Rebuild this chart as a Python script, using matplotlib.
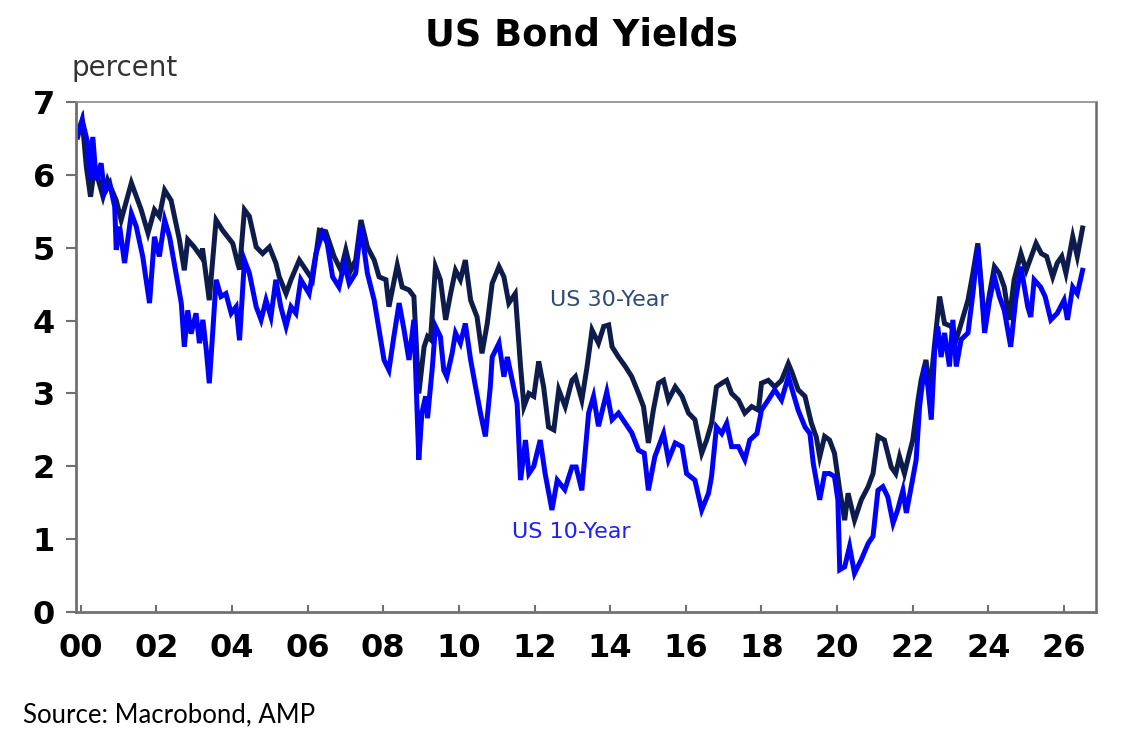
import matplotlib.pyplot as plt

# US 30-year yield (decimal year, percent)
yr30 = [1999.92, 2000.04, 2000.15, 2000.26, 2000.37, 2000.59, 2000.71, 2000.94, 2001.07, 2001.34,
        2001.60, 2001.78, 2001.95, 2002.08, 2002.22, 2002.39, 2002.61, 2002.74, 2002.83, 2003.00,
        2003.18, 2003.22, 2003.40, 2003.58, 2003.75, 2004.02, 2004.15, 2004.20, 2004.33, 2004.46,
        2004.64, 2004.81, 2004.99, 2005.16, 2005.25, 2005.43, 2005.56, 2005.78, 2005.96, 2006.13,
        2006.31, 2006.48, 2006.70, 2006.88, 2007.01, 2007.14, 2007.27, 2007.41, 2007.58, 2007.76,
        2007.89, 2008.07, 2008.15, 2008.37, 2008.50, 2008.68, 2008.81, 2008.94, 2009.08, 2009.17,
        2009.25, 2009.38, 2009.51, 2009.65, 2009.78, 2009.91, 2010.04, 2010.17, 2010.31, 2010.48,
        2010.61, 2010.75, 2010.88, 2011.06, 2011.19, 2011.32, 2011.49, 2011.63, 2011.72, 2011.85,
        2011.98, 2012.11, 2012.24, 2012.37, 2012.51, 2012.64, 2012.81, 2012.99, 2013.08, 2013.25,
        2013.39, 2013.52, 2013.69, 2013.83, 2013.96, 2014.05, 2014.22, 2014.40, 2014.57, 2014.75,
        2014.88, 2015.01, 2015.14, 2015.28, 2015.41, 2015.54, 2015.72, 2015.90, 2016.07, 2016.24,
        2016.42, 2016.55, 2016.68, 2016.81, 2016.95, 2017.08, 2017.21, 2017.39, 2017.56, 2017.74,
        2017.92, 2018.00, 2018.18, 2018.35, 2018.53, 2018.71, 2018.80, 2018.97, 2019.15, 2019.32,
        2019.45, 2019.54, 2019.67, 2019.80, 2019.93, 2020.07, 2020.20, 2020.29, 2020.46, 2020.64,
        2020.82, 2020.95, 2021.08, 2021.25, 2021.43, 2021.55, 2021.65, 2021.78, 2021.91, 2022.00,
        2022.14, 2022.22, 2022.35, 2022.45, 2022.58, 2022.71, 2022.84, 2023.02, 2023.15, 2023.28,
        2023.46, 2023.59, 2023.72, 2023.81, 2023.90, 2024.03, 2024.16, 2024.29, 2024.42, 2024.55,
        2024.68, 2024.86, 2025.00, 2025.26, 2025.40, 2025.54, 2025.70, 2025.82, 2025.94, 2026.05,
        2026.23, 2026.35, 2026.49]
us30 = [6.59, 6.75, 6.11, 5.70, 6.11, 5.70, 5.93, 5.65, 5.38, 5.89,
        5.52, 5.20, 5.52, 5.43, 5.79, 5.65, 5.11, 4.69, 5.11, 5.01,
        4.88, 4.99, 4.28, 5.38, 5.24, 5.06, 4.79, 4.70, 5.52, 5.43,
        5.01, 4.92, 5.01, 4.79, 4.60, 4.37, 4.56, 4.83, 4.69, 4.56,
        5.24, 5.22, 4.88, 4.69, 4.97, 4.69, 4.83, 5.38, 5.01, 4.83,
        4.60, 4.56, 4.19, 4.76, 4.46, 4.42, 4.33, 3.00, 3.64, 3.78,
        3.74, 4.74, 4.56, 4.01, 4.37, 4.69, 4.56, 4.83, 4.28, 4.05,
        3.55, 3.96, 4.51, 4.74, 4.60, 4.24, 4.37, 3.37, 2.82, 3.00,
        2.96, 3.44, 3.09, 2.54, 2.50, 3.05, 2.82, 3.18, 3.23, 2.91,
        3.37, 3.87, 3.69, 3.92, 3.94, 3.64, 3.50, 3.37, 3.23, 3.00,
        2.82, 2.32, 2.77, 3.14, 3.18, 2.91, 3.09, 2.96, 2.73, 2.64,
        2.18, 2.36, 2.59, 3.09, 3.14, 3.18, 3.00, 2.91, 2.73, 2.82,
        2.77, 3.14, 3.18, 3.09, 3.18, 3.41, 3.30, 3.05, 2.96, 2.59,
        2.40, 2.13, 2.41, 2.36, 2.18, 1.67, 1.26, 1.63, 1.26, 1.54,
        1.72, 1.90, 2.41, 2.36, 1.99, 1.90, 2.13, 1.90, 2.18, 2.36,
        2.91, 3.18, 3.46, 3.00, 3.69, 4.33, 3.96, 3.92, 3.74, 3.96,
        4.28, 4.65, 5.06, 4.51, 3.95, 4.37, 4.74, 4.65, 4.46, 4.01,
        4.56, 4.92, 4.69, 5.06, 4.92, 4.88, 4.60, 4.79, 4.88, 4.65,
        5.15, 4.88, 5.27]

# US 10-year yield
yr10 = [1999.92, 2000.04, 2000.19, 2000.24, 2000.32, 2000.41, 2000.54, 2000.63, 2000.77, 2000.90,
        2000.94, 2001.03, 2001.16, 2001.34, 2001.47, 2001.64, 2001.82, 2001.95, 2002.08, 2002.22,
        2002.35, 2002.52, 2002.66, 2002.74, 2002.83, 2002.92, 2003.05, 2003.14, 2003.23, 2003.32,
        2003.40, 2003.49, 2003.58, 2003.71, 2003.84, 2003.98, 2004.11, 2004.20, 2004.33, 2004.46,
        2004.64, 2004.77, 2004.90, 2005.03, 2005.16, 2005.29, 2005.43, 2005.56, 2005.69, 2005.82,
        2006.04, 2006.22, 2006.39, 2006.52, 2006.66, 2006.83, 2006.97, 2007.10, 2007.27, 2007.41,
        2007.58, 2007.76, 2007.89, 2008.02, 2008.15, 2008.28, 2008.42, 2008.55, 2008.68, 2008.81,
        2008.94, 2009.02, 2009.12, 2009.17, 2009.30, 2009.38, 2009.51, 2009.60, 2009.68, 2009.82,
        2009.91, 2010.04, 2010.17, 2010.31, 2010.44, 2010.57, 2010.70, 2010.83, 2010.88, 2011.06,
        2011.19, 2011.28, 2011.41, 2011.54, 2011.63, 2011.76, 2011.85, 2011.98, 2012.15, 2012.28,
        2012.46, 2012.60, 2012.80, 2012.99, 2013.10, 2013.25, 2013.43, 2013.56, 2013.69, 2013.91,
        2014.05, 2014.22, 2014.40, 2014.57, 2014.75, 2014.90, 2015.01, 2015.18, 2015.41, 2015.54,
        2015.72, 2015.90, 2016.02, 2016.24, 2016.42, 2016.60, 2016.68, 2016.81, 2016.95, 2017.08,
        2017.21, 2017.39, 2017.56, 2017.69, 2017.88, 2018.00, 2018.18, 2018.35, 2018.53, 2018.71,
        2018.84, 2018.97, 2019.15, 2019.28, 2019.37, 2019.54, 2019.67, 2019.80, 2019.93, 2020.02,
        2020.07, 2020.20, 2020.33, 2020.46, 2020.64, 2020.82, 2020.95, 2021.08, 2021.21, 2021.34,
        2021.48, 2021.60, 2021.74, 2021.83, 2021.96, 2022.09, 2022.18, 2022.31, 2022.40, 2022.49,
        2022.58, 2022.66, 2022.75, 2022.84, 2022.97, 2023.06, 2023.15, 2023.28, 2023.46, 2023.59,
        2023.72, 2023.81, 2023.90, 2024.03, 2024.16, 2024.29, 2024.42, 2024.59, 2024.72, 2024.86,
        2025.04, 2025.12, 2025.21, 2025.38, 2025.50, 2025.65, 2025.82, 2026.00, 2026.09, 2026.23,
        2026.35, 2026.49]
us10 = [6.52, 6.75, 6.43, 5.93, 6.52, 5.93, 6.16, 5.75, 5.88, 5.56,
        4.97, 5.29, 4.79, 5.47, 5.29, 4.88, 4.24, 5.15, 4.88, 5.38,
        5.15, 4.65, 4.24, 3.64, 4.14, 3.82, 4.10, 3.69, 4.01, 3.60,
        3.14, 3.83, 4.56, 4.33, 4.37, 4.10, 4.19, 3.73, 4.83, 4.65,
        4.19, 4.01, 4.28, 4.05, 4.56, 4.19, 3.92, 4.19, 4.10, 4.56,
        4.37, 4.92, 5.20, 5.06, 4.60, 4.46, 4.79, 4.51, 4.65, 5.29,
        4.65, 4.28, 3.87, 3.46, 3.32, 3.78, 4.24, 3.87, 3.46, 4.01,
        2.09, 2.73, 2.96, 2.66, 3.37, 3.92, 3.78, 3.32, 3.23, 3.55,
        3.83, 3.69, 3.96, 3.46, 3.09, 2.73, 2.41, 3.09, 3.50, 3.69,
        3.23, 3.50, 3.18, 2.86, 1.81, 2.36, 1.90, 2.00, 2.36, 1.90,
        1.40, 1.81, 1.68, 1.99, 1.99, 1.67, 2.73, 2.96, 2.55, 3.02,
        2.64, 2.73, 2.59, 2.46, 2.22, 2.18, 1.67, 2.13, 2.45, 2.09,
        2.32, 2.27, 1.90, 1.81, 1.40, 1.63, 1.86, 2.54, 2.45, 2.59,
        2.27, 2.27, 2.09, 2.36, 2.45, 2.77, 2.91, 3.05, 2.91, 3.23,
        3.00, 2.77, 2.54, 2.45, 2.04, 1.54, 1.90, 1.90, 1.86, 1.54,
        0.58, 0.62, 0.90, 0.53, 0.72, 0.94, 1.04, 1.67, 1.72, 1.58,
        1.22, 1.40, 1.67, 1.36, 1.72, 2.09, 2.82, 3.37, 3.10, 2.64,
        3.60, 3.92, 3.50, 3.83, 3.37, 4.01, 3.37, 3.74, 3.83, 4.37,
        5.01, 4.46, 3.83, 4.28, 4.60, 4.33, 4.14, 3.64, 4.28, 4.74,
        4.19, 4.05, 4.56, 4.46, 4.33, 4.01, 4.10, 4.28, 4.01, 4.46,
        4.37, 4.69]

xticks = list(range(2000, 2027, 2))
xlabels = ['%02d' % (t % 100) for t in xticks]
yticks = list(range(0, 8))

navy = '#0d1c4b'
blue = '#0000ff'

fig = plt.figure(figsize=(11.36, 7.38), dpi=100)
ax = fig.add_axes([76 / 1136, 1 - 612 / 738, 1020 / 1136, 510 / 738])

ax.plot(yr30, us30, color=navy, lw=3.6, solid_joinstyle='miter')
ax.plot(yr10, us10, color=blue, lw=3.6, solid_joinstyle='miter')

ax.set_xlim(1999.876, 2026.845)
ax.set_ylim(0, 7)
ax.set_xticks(xticks)
ax.set_xticklabels(xlabels)
ax.set_yticks(yticks)

ax.tick_params(axis='x', direction='in', length=5, width=1.5, color='#707070',
               pad=15, labelsize=23)
ax.tick_params(axis='y', direction='out', length=7, width=1.5, color='#707070',
               pad=8, labelsize=23)
for lab in ax.get_xticklabels() + ax.get_yticklabels():
    lab.set_fontweight('bold')

for side in ['left', 'bottom']:
    ax.spines[side].set_color('#707070')
    ax.spines[side].set_linewidth(2.0)
ax.spines['top'].set_color('#8a8a8a')
ax.spines['top'].set_linewidth(1.2)
ax.spines['right'].set_color('#6a6a6a')
ax.spines['right'].set_linewidth(1.8)

ax.text(550 / 1136, 1 - 306 / 738, 'US 30-Year', transform=fig.transFigure,
        fontsize=16, color='#2c4a7c')
ax.text(512 / 1136, 1 - 538 / 738, 'US 10-Year', transform=fig.transFigure,
        fontsize=16, color='#2020f0')

fig.text(581 / 1136, 1 - 45 / 738, 'US Bond Yields', ha='center', va='baseline',
         fontsize=26.5, fontweight='bold')
fig.text(71 / 1136, 1 - 76 / 738, 'percent', fontsize=20, color='#333333')
fig.text(23 / 1136, 1 - 722 / 738, 'Source: Macrobond, AMP', fontsize=18.5,
         family='Lato')

fig.savefig('out.png', dpi=100)
